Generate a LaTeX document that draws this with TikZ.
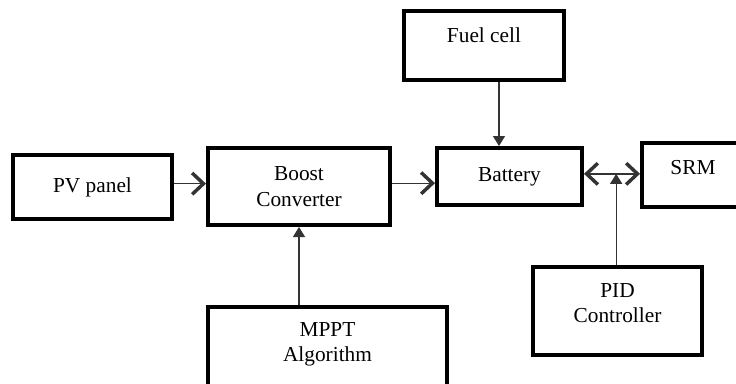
\documentclass[tikz,border=0pt]{standalone}
\usepackage{fontspec}
\setmainfont{Liberation Serif}
\usetikzlibrary{arrows.meta,calc}

\begin{document}
\begin{tikzpicture}[x=0.75pt,y=-0.75pt,
      font=\fontsize{16}{19}\selectfont,
      block/.style={draw=black,line width=3pt,align=center,inner sep=0pt},
      lift/.style={text depth=#1},
      link/.style={draw=black!80,line width=1pt},
      barb/.style={-{Straight Barb[length=8.5pt,width=16pt,line width=2.6pt]}},
      dbarb/.style={{Straight Barb[length=8.5pt,width=16pt,line width=2.6pt]}-{Straight Barb[length=8.5pt,width=16pt,line width=2.6pt]}},
      tri/.style={-{Triangle[length=7.5pt,width=9pt]}}
    ]
      \clip (0,0) rectangle (736,383);
      \fill[white] (0,0) rectangle (736,383);
      \node[block,minimum width=119pt,minimum height=48pt] (pv) at (92.5,187) {PV panel};
      \node[block,minimum width=136.5pt,minimum height=57.75pt] (boost) at (299,186.5) {Boost\\Converter};
      \node[block,minimum width=108.75pt,minimum height=42.75pt] (bat) at (509.5,176.5) {Battery};
      \node[block,lift=15pt,minimum width=120pt,minimum height=51.75pt] (fuel) at (484,45.5) {Fuel cell};
      \node[block,lift=12pt,minimum width=76.5pt,minimum height=48pt] (srm) at (693,175) {SRM};
      \node[block,lift=12pt,minimum width=126.75pt,minimum height=66pt] (pid) at (617.5,311) {PID\\Controller};
      \node[block,lift=12pt,minimum width=179.25pt,minimum height=64.5pt] (mppt) at (327.5,350) {MPPT\\Algorithm};
      % power flow
      \draw[link,barb] ([yshift=2.5pt]pv.east) -- ([yshift=2.5pt]pv.east -| boost.west);
      \draw[link,barb] ([yshift=2.5pt]boost.east) -- ([yshift=2.5pt]boost.east -| bat.west);
      \draw[link,tri] ([xshift=11.25pt]fuel.south) -- ([xshift=11.25pt]fuel.south |- bat.north);
      \draw[link,dbarb] ([yshift=2pt]bat.east)
        -- coordinate[pos=0.55] (bus) ([yshift=2pt]bat.east -| srm.west);
      % control signals
      \draw[link,tri] ([xshift=-1pt]pid.north) -- ([xshift=-1pt]pid.north |- bus);
      \draw[link,tri] (mppt.north -| boost.south) -- (boost.south);
    \end{tikzpicture}
\end{document}
